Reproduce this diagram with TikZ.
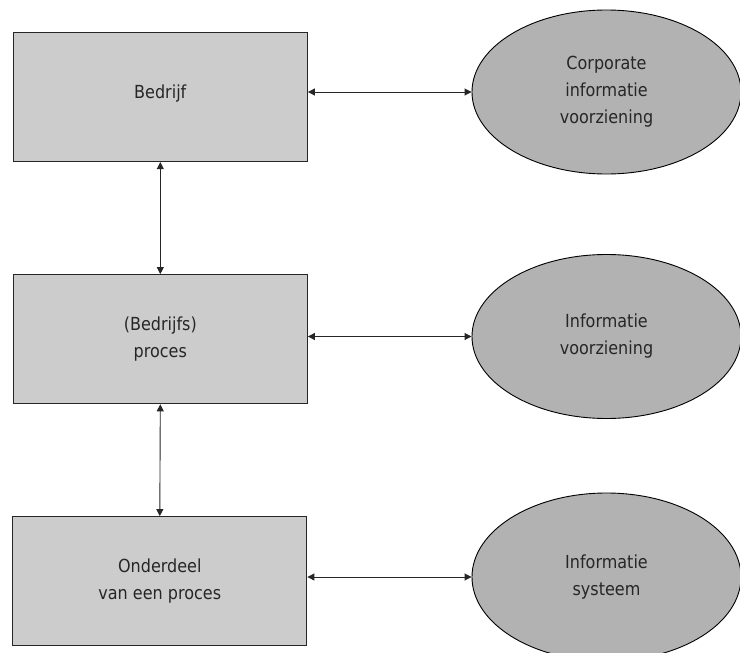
\documentclass[tikz,border=0pt]{standalone}
\usepackage{fontspec}
\setmainfont{DejaVu Sans}[FakeStretch=0.89]
\usetikzlibrary{arrows.meta,shapes.geometric}
\definecolor{boxgray}{HTML}{CCCCCC}
\definecolor{ellgray}{HTML}{B2B2B2}
\definecolor{inkgray}{HTML}{262626}
\begin{document}
\begin{tikzpicture}[x=1pt,y=-1pt,
  labelfont/.style={font=\fontsize{18}{27}\selectfont, text=inkgray, align=center},
  levelbox/.style={rectangle, draw=inkgray, line width=1.2pt, fill=boxgray,
    minimum width=294pt, minimum height=129pt, inner sep=0pt, labelfont},
  infobubble/.style={ellipse, draw=black, line width=0.9pt, fill=ellgray,
    minimum width=269pt, minimum height=164pt, inner sep=0pt, labelfont},
  link/.style={draw=inkgray, line width=0.9pt,
    {Triangle[length=7pt,width=7pt]}-{Triangle[length=7pt,width=7pt]}}]
  \clip (0,0) rectangle (740,653);
  \fill[white] (0,0) rectangle (740,653);

  % organisational levels
  \node[levelbox, text depth=10pt] (bedrijf) at (160.3,97) {Bedrijf};
  \node[levelbox] (proces)  at (160.3,339.2) {(Bedrijfs)\\proces};
  \node[levelbox] (onderdeel) at (159.8,581.2) {Onderdeel\\van een proces};

  % matching information level
  \node[infobubble] (corp) at (606.5,92) {Corporate\\informatie\\voorziening};
  \node[infobubble] (iv)   at (606.5,336.5) {Informatie\\voorziening};
  \node[infobubble, minimum height=168pt] (is) at (606.5,577) {Informatie\\systeem};

  % vertical links between levels
  \draw[link] (bedrijf.south) -- (proces.north);
  \draw[link] (proces.south) -- (onderdeel.north);

  % horizontal links to information
  \draw[link] (bedrijf.east |- corp.west) -- (corp.west);
  \draw[link] (proces.east |- iv.west) -- (iv.west);
  \draw[link] (onderdeel.east |- is.west) -- (is.west);
\end{tikzpicture}
\end{document}
